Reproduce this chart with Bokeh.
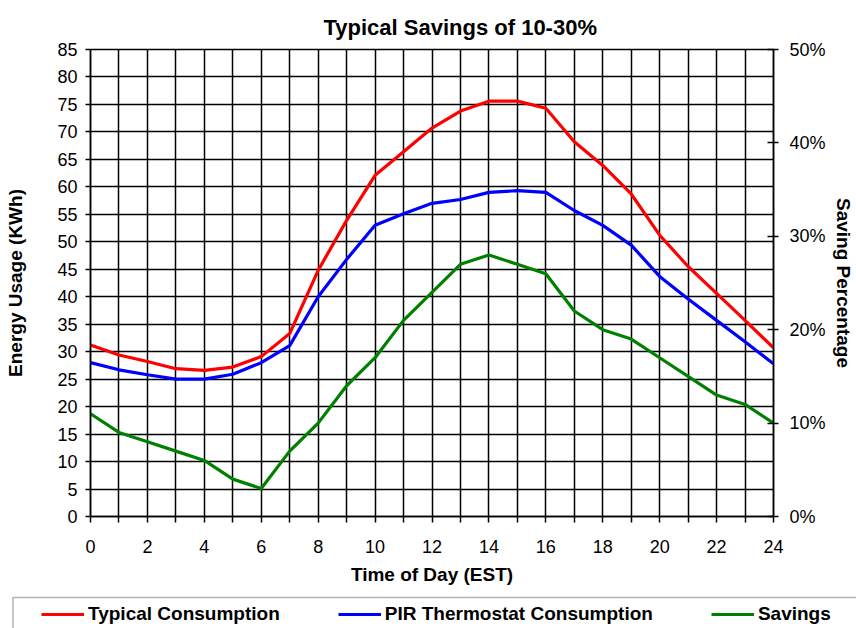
from bokeh.plotting import figure
from bokeh.models import (Range1d, LinearAxis, FixedTicker, Legend, LegendItem, Title,
                          BoxAnnotation)
from bokeh.embed import file_html
from bokeh.resources import INLINE

hours = list(range(25))
typical = [31.2, 29.4, 28.2, 26.9, 26.6, 27.2, 29.1, 33.3, 44.8, 53.9, 62.1, 66.4,
           70.7, 73.8, 75.6, 75.6, 74.3, 68.2, 63.9, 58.7, 51.2, 45.5, 40.6, 35.7, 30.7]
pir = [28.0, 26.7, 25.8, 25.0, 25.0, 25.9, 28.0, 31.1, 40.0, 46.8, 53.0, 55.1,
       57.0, 57.7, 59.0, 59.3, 59.0, 55.7, 53.0, 49.4, 43.7, 39.6, 35.7, 31.8, 27.8]
savings = [11, 9, 8, 7, 6, 4, 3, 7, 10, 14, 17, 21, 24, 27, 28, 27, 26, 22,
           20, 19, 17, 15, 13, 12, 10]

series_names = ["Typical Consumption", "PIR Thermostat Consumption", "Savings"]
series_colors = ["#ff0000", "#0000ff", "#008000"]

x_ticks = list(range(0, 25))
y_ticks = list(range(0, 90, 5))
pct_ticks = [0, 10, 20, 30, 40, 50]

FONT = "Liberation Sans"

p = figure(width=856, height=594, output_backend="svg", toolbar_location=None,
           x_range=Range1d(0, 24), y_range=Range1d(0, 85),
           min_border_left=90, min_border_right=79, min_border_top=49,
           min_border_bottom=78, title=None)
p.extra_y_ranges = {"pct": Range1d(0, 50)}

p.add_layout(Title(text="Typical Savings of 10-30%", align="left", offset=233,
                   text_font=FONT, text_font_size="22px", text_font_style="bold",
                   text_color="black", standoff=20), "above")

p.background_fill_color = "white"
p.border_fill_color = "white"
p.outline_line_color = "black"
p.outline_line_width = 1.5

p.xgrid.ticker = FixedTicker(ticks=x_ticks)
p.ygrid.ticker = FixedTicker(ticks=y_ticks)
for g in (p.xgrid, p.ygrid):
    g.grid_line_color = "black"
    g.grid_line_width = 1.5
    g.grid_line_alpha = 1.0

xa = p.xaxis[0]
xa.ticker = FixedTicker(ticks=x_ticks)
xa.major_label_overrides = {h: (str(h) if h % 2 == 0 else "") for h in x_ticks}
xa.axis_label = "Time of Day (EST)"

ya = p.yaxis[0]
ya.ticker = FixedTicker(ticks=y_ticks)
ya.axis_label = "Energy Usage (KWh)"

ra = LinearAxis(y_range_name="pct", ticker=FixedTicker(ticks=pct_ticks),
                axis_label="Saving Percentage")
ra.major_label_overrides = {t: f"{t}%" for t in pct_ticks}
p.add_layout(ra, "right")

for ax in (xa, ya, ra):
    ax.axis_line_color = "black"
    ax.axis_line_width = 1.5
    ax.major_tick_line_color = "black"
    ax.major_tick_line_width = 1.5
    ax.minor_tick_line_color = None
    ax.major_tick_in = 0
    ax.major_tick_out = 5
    ax.major_label_text_font = FONT
    ax.major_label_text_font_size = "18px"
    ax.major_label_text_color = "black"
    ax.major_label_standoff = 8
    ax.axis_label_text_font = FONT
    ax.axis_label_text_font_size = "19px"
    ax.axis_label_text_font_style = "bold"
    ax.axis_label_text_color = "black"

xa.major_tick_out = 6
xa.major_label_standoff = 17
xa.axis_label_standoff = 8
ya.axis_label_standoff = 28
ra.major_tick_in = 6
ra.major_label_standoff = 11
ra.axis_label_standoff = 4

p.line(hours, typical, line_color=series_colors[0], line_width=3.2)
p.line(hours, pir, line_color=series_colors[1], line_width=3.2)
p.line(hours, savings, line_color=series_colors[2], line_width=3.2, y_range_name="pct")

# legend strip drawn as a separate root below the chart
p2 = figure(width=856, height=34, output_backend="svg", toolbar_location=None,
            x_range=Range1d(0, 1), y_range=Range1d(0, 1),
            x_axis_location=None, y_axis_location=None,
            min_border_left=0, min_border_right=0, min_border_top=0,
            min_border_bottom=0)
p2.grid.visible = False
p2.outline_line_color = None
p2.background_fill_color = "white"
p2.border_fill_color = "white"

items = []
for name, col in zip(series_names, series_colors):
    rr = p2.line([-10], [-10], line_color=col, line_width=3.2)
    items.append(LegendItem(label=name, renderers=[rr]))

p2.add_layout(BoxAnnotation(left=12.5, right=900, top=31, bottom=-20,
                            left_units="screen", right_units="screen",
                            top_units="screen", bottom_units="screen",
                            fill_alpha=0, line_color="black", line_width=1.5))

legend = Legend(items=items, orientation="horizontal", location=(41, 3), margin=0,
                spacing=58, glyph_width=43, label_standoff=4, padding=0,
                border_line_alpha=0, background_fill_alpha=0,
                label_text_font=FONT, label_text_font_size="19px",
                label_text_font_style="bold", label_text_color="black")
p2.add_layout(legend)

open("out.html", "w").write(file_html([p, p2], INLINE))
